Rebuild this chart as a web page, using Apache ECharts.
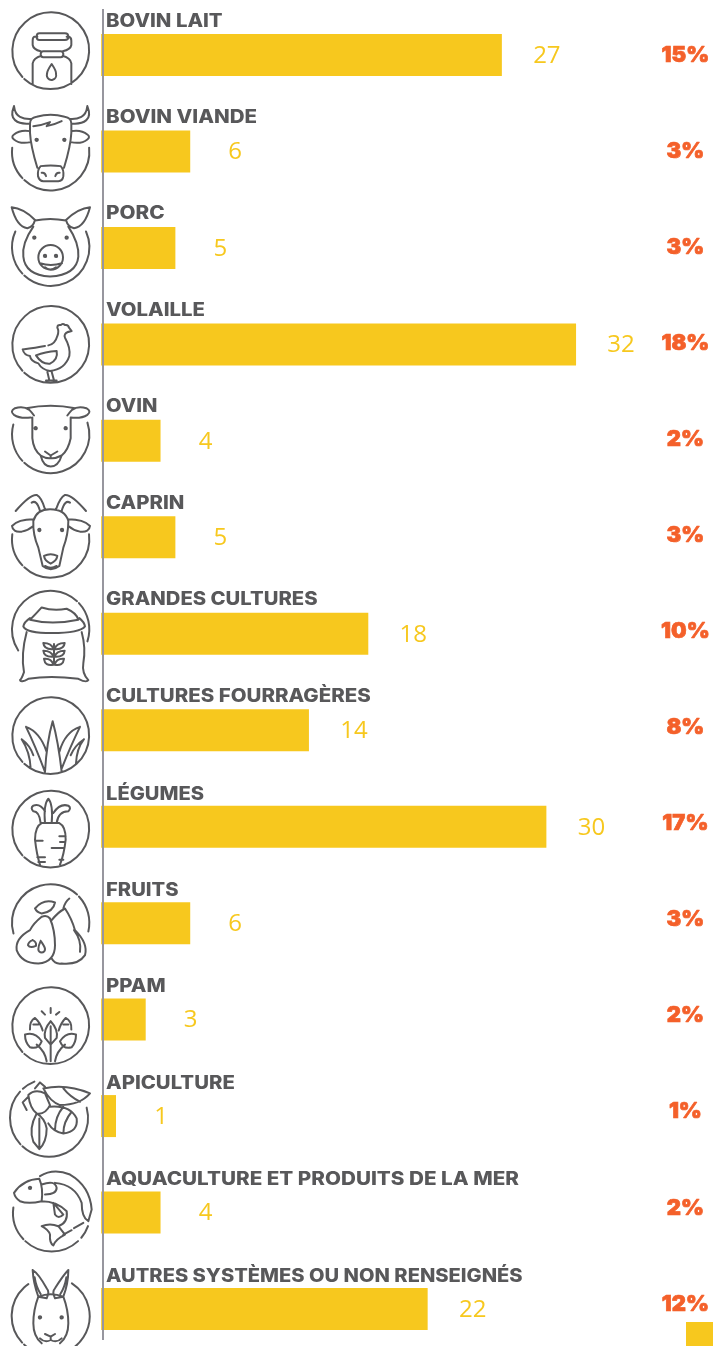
<!DOCTYPE html>
<html><head><meta charset="utf-8">
<style>html,body{margin:0;padding:0;background:#fff}#c{width:713px;height:1346px}</style>
<script src="https://cdn.jsdelivr.net/npm/echarts@6/dist/echarts.min.js"></script>
</head><body><div id="c"></div>
<script>
const categories=['BOVIN LAIT','BOVIN VIANDE','PORC','VOLAILLE','OVIN','CAPRIN','GRANDES CULTURES','CULTURES FOURRAGÈRES','LÉGUMES','FRUITS','PPAM','APICULTURE','AQUACULTURE ET PRODUITS DE LA MER','AUTRES SYSTÈMES OU NON RENSEIGNÉS'];
const counts=[27,6,5,32,4,5,18,14,30,6,3,1,4,22];
const percents=['15%','3%','3%','18%','2%','3%','10%','8%','17%','3%','2%','1%','2%','12%'];
const labelRaise=[34,34,34,34,34,34,34,34,32,33,33,33,33,33];
const labelStretch=[1.10,1.11,1.12,1.10,1.09,1.10,1.095,1.107,1.09,1.09,1.10,1.10,1.117,1.087];

function rad(a){return a*Math.PI/180}
function arc(cx,cy,r,a0,a1){
  const x0=cx+r*Math.cos(rad(a0)),y0=cy+r*Math.sin(rad(a0)),x1=cx+r*Math.cos(rad(a1)),y1=cy+r*Math.sin(rad(a1));
  return `M${x0.toFixed(1)} ${y0.toFixed(1)}A${r} ${r} 0 ${a1-a0>180?1:0} 1 ${x1.toFixed(1)} ${y1.toFixed(1)}`;
}
function arcs(cx,cy,r,list){return list.map(s=>arc(cx,cy,r,s[0],s[1])).join('')}
function ring(cx,cy,r){return arc(cx,cy,r,0,179)+arc(cx,cy,r,179,359.9)}
function dot(x,y,r){return ring(x,y,r||3.5)}

/* Icon outlines: anchor is the bar centre in the outline's own coordinates */
const iconShapes=[
 {anchor:165,d:arcs(152,152,116,[[-43,133],[137,315]])+
  'M118 100H195Q205 100 205 110Q205 120 195 120H118Q110 120 110 110Q110 100 118 100Z'+
  'M112 110H103Q98 112 98 122V135Q100 148 122 154M200 110H207Q214 112 214 122V135Q212 148 188 154'+
  'M130 154H182Q190 154 190 163Q190 172 182 172H130Q122 172 122 163Q122 154 130 154Z'+
  'M124 167Q100 174 98 190V252M188 167Q212 174 214 190V252'+
  'M155 192Q170 214 168 222A14 14 0 1 1 141 222Q140 214 155 192Z'},
 {anchor:456,d:arcs(152,457,116,[[-6,133],[137,186]])+
  'M42 320Q30 350 45 362Q60 375 90 372M42 320Q45 345 60 352Q75 360 96 358M262 320Q274 350 259 362Q244 375 214 372M262 320Q259 345 244 352Q229 360 208 358'+
  'M90 372Q90 355 110 352Q152 340 194 352Q214 355 214 372V400Q212 440 192 505M90 372V400Q92 440 112 505'+
  'M122 500Q152 496 182 500Q192 510 190 530Q188 545 175 545H130Q118 545 114 530Q112 510 122 500Z'+
  'M125 520Q135 518 138 530M179 520Q169 518 166 530'+
  'M90 395Q60 390 42 405Q32 412 42 420Q60 435 92 428M214 395Q244 390 262 405Q272 412 262 420Q244 435 212 428'+
  'M100 380Q125 378 150 368L140 380Q165 375 185 365'+dot(110,421)+dot(193,421)},
 {anchor:744,d:arcs(152,742,116,[[-24,133],[137,204]])+
  'M100 680Q65 730 70 770Q75 825 150 830Q230 825 235 770Q238 730 205 680'+
  'M35 622Q70 625 105 660Q100 680 82 685Q50 680 35 622ZM270 622Q235 625 198 660Q203 680 222 685Q255 680 270 622Z'+
  'M105 662Q150 652 198 662'+ring(152,772,37)+dot(135,768)+dot(168,768)+dot(103,713)+dot(200,713)+
  'M120 790Q152 800 186 790M135 802Q150 815 168 802'},
 {anchor:150,d:arcs(152,150,116,[[-43,133],[137,315]])+
  'M68 165Q110 160 135 155M68 165Q72 182 90 185Q92 200 115 207Q125 225 150 230Q195 225 208 185Q212 160 195 130Q190 118 205 112'+
  'M172 100Q172 90 182 92Q188 85 195 92Q205 90 207 100L215 110L205 113M172 100Q178 110 172 125Q165 150 145 153'+
  'M108 183Q135 172 170 170Q175 195 150 208Q125 210 108 183Z'+
  'M142 232L148 258M155 232L162 258M138 258H170'},
 {anchor:438,d:arcs(152,419,116,[[-18,133],[137,195]])+
  'M92 368Q60 372 42 360Q28 350 45 340Q70 332 88 345Q95 352 102 362M212 368Q244 372 262 360Q276 350 259 340Q234 332 216 345Q209 352 202 362'+
  'M78 340Q152 325 226 340M97 368V430Q100 465 122 482M212 368V430Q205 465 185 482'+
  'M135 470L152 482L172 470M152 482V490M122 482Q140 492 152 490Q165 492 185 482M122 482Q130 515 152 515Q175 515 185 482'+dot(107,400)+dot(197,400)},
 {anchor:729,d:arcs(152,734,116,[[-7,133],[137,187]])+
  'M47 650Q90 600 110 602Q125 610 135 645M95 625Q110 615 120 650M258 650Q215 600 195 602Q180 610 168 645M210 625Q195 615 185 650'+
  'M100 680Q110 645 150 645Q195 645 205 680Q205 720 190 760L178 815Q152 835 128 815L115 760Q98 720 100 680Z'+
  'M100 675Q55 675 36 695Q38 715 65 712Q85 708 100 695M205 675Q250 675 270 695Q268 715 240 712Q220 708 205 695'+
  'M132 785Q152 775 172 785Q170 800 152 808Q134 800 132 785ZM135 815Q152 825 170 815'+dot(118,707)+dot(186,707)},
 {anchor:147,d:arcs(152,134,116,[[147,313],[317,378]])+
  'M90 100Q72 112 70 125Q80 145 155 145Q240 145 255 125Q253 112 238 100M90 105Q110 85 125 68Q160 80 200 72Q230 85 235 105Q155 122 90 105Z'+
  'M80 142Q62 210 72 262Q65 282 60 286Q62 295 85 282Q150 272 235 282Q260 295 265 286Q245 265 250 235Q258 190 245 142'+
  'M162 178V240M130 175Q155 175 160 193Q132 195 130 175ZM194 175Q169 175 164 193Q192 195 194 175ZM130 198Q155 198 160 216Q132 218 130 198ZM194 198Q169 198 164 216Q192 218 194 198ZM132 222Q155 220 160 240Q135 245 132 222ZM192 222Q169 220 164 240Q189 245 192 222Z'},
 {anchor:435,d:arcs(152,451,116,[[-43,133],[137,315]])+
  'M135 560Q140 470 158 408Q175 470 185 560M78 425Q120 440 140 500M78 425Q105 480 135 560M240 425Q195 440 178 500M240 425Q213 480 185 550'+
  'M65 462Q90 480 100 510M65 462Q90 500 92 550M252 462Q225 480 212 510M252 462Q230 490 228 535'},
 {anchor:726,d:arcs(152,733,116,[[-43,133],[137,315]])+
  'M135 715Q130 660 145 642Q160 660 155 715M122 715Q118 680 100 680Q90 670 100 663Q120 655 135 680M170 715Q175 680 205 680Q215 670 205 663Q180 655 160 685'+
  'M125 715H178Q198 725 197 765Q192 810 180 840M125 715Q105 725 105 765Q110 810 120 840'+
  'M108 768H128M178 755H197M180 772H195M155 790H192M112 818H135M115 832H135M178 825H190'},
 {anchor:144,d:arcs(152,143,116,[[164,313],[317,373]])+
  'M125 125Q100 145 90 165Q45 190 50 225Q65 265 115 265Q165 260 165 210Q165 165 150 130Q140 118 125 125'+
  'M155 135Q175 110 195 100Q215 130 225 165Q265 205 255 240Q235 270 185 265Q165 268 155 250'+
  'M190 100Q195 80 208 70M105 100Q130 70 165 82Q160 110 125 115Q110 112 105 100'+
  'M98 195Q110 200 108 212Q90 220 84 210Q85 200 98 195M122 197Q135 215 135 222A10 10 0 1 1 115 222Q115 212 122 197M222 165Q245 195 240 230'},
 {anchor:435,d:arcs(152,453,116,[[-43,133],[137,315]])+
  'M152 400V415M125 410L135 420M178 412L168 420'+
  'M152 440Q175 465 170 490L152 510L135 490Q130 465 152 440M152 455V560'+
  'M75 480Q105 470 125 500Q115 525 90 518Q75 505 75 480M228 480Q200 470 180 500Q190 525 215 518Q228 505 228 480'+
  'M140 560Q135 530 110 510M165 560Q170 530 195 510'+
  'M90 465Q88 440 105 430Q122 445 128 468M100 450H115M214 465Q216 440 197 430Q182 445 176 468M190 450H205'},
 {anchor:723,d:arcs(147,728,117,[[-15,133],[137,222],[228,248]])+
  'M130 640Q200 625 270 655Q240 690 180 690Q150 680 130 640M190 640Q210 665 240 680'+
  'M110 715Q85 760 100 800L118 822Q140 800 140 760Q135 730 110 715M118 730V820'+
  'M150 695Q210 690 230 730Q235 770 190 775Q160 770 145 745M190 695Q165 725 165 765M215 710Q190 740 190 775'+
  'M85 660Q105 640 135 655L150 690Q135 720 110 715Q90 700 85 660M105 640L120 622L135 635M85 665L68 682L80 705'},
 {anchor:159,d:arcs(155,160,116,[[20,40],[47,133],[137,188]])+
  'M42 100Q70 60 118 58Q130 85 125 125Q85 135 60 125Q45 115 42 100M125 75Q165 60 170 85Q170 105 135 105'+
  'M125 125Q170 125 200 155Q205 190 175 200M160 130L190 165Q175 180 165 165Z'+
  'M125 200Q150 190 175 200L195 225Q165 240 160 258Q148 250 150 225Q145 210 125 200'+
  'M120 50Q160 25 210 45Q270 80 275 150L265 185Q245 175 245 130Q225 75 165 70M190 225L215 212M222 206L250 190'+dot(90,85)},
 {anchor:447,d:arcs(152,468,117,[[-57,133],[137,235]])+
  'M98 330Q100 370 115 410L140 415Q150 395 140 385Q115 340 98 330M205 330Q205 370 190 410L165 415Q155 395 165 385Q190 345 205 330'+
  'M104 352Q108 380 122 402M199 352Q195 380 181 402'+
  'M115 410Q100 450 100 490Q100 530 125 550M190 410Q205 450 205 490Q205 530 180 550M115 410Q152 395 190 410'+
  'M135 522L152 530L165 522M152 530V540M120 535Q135 550 152 540Q170 550 185 535'+dot(120,472)+dot(185,472)}
];

const chart=echarts.init(document.getElementById('c'),null,{renderer:'canvas'});
const plotLeft=104, unit=14.84, xMin=0.19, xMax=40;
const plotWidth=unit*(xMax-xMin);
chart.setOption({
 animation:false,
 backgroundColor:'#fff',
 grid:[
  {left:plotLeft,top:55,width:plotWidth,height:1254},
  {left:plotLeft,top:55,width:plotWidth,height:1249}
 ],
 xAxis:[
  {type:'value',min:xMin,max:xMax,gridIndex:0,show:false},
  {type:'value',min:xMin,max:xMax,gridIndex:1,show:false}
 ],
 yAxis:[
  {type:'category',gridIndex:0,inverse:true,boundaryGap:false,data:categories,
   axisLine:{show:false},axisTick:{show:false},axisLabel:{show:false}},
  {type:'category',gridIndex:1,inverse:true,boundaryGap:false,position:'right',data:percents,
   axisLine:{show:false},axisTick:{show:false},
   axisLabel:{show:true,interval:0,margin:-8.3,align:'center',color:'#f4602a',
     fontFamily:'Inter',fontWeight:900,fontSize:22,textBorderColor:'#f4602a',textBorderWidth:0.7}}
 ],
 series:[
  {type:'bar',xAxisIndex:0,yAxisIndex:0,data:counts,barWidth:42,clip:false,
   itemStyle:{color:'#f7c81e'},
   label:{show:true,position:'right',distance:45,align:'center',offset:[0,1],color:'#f7c81e',
     fontFamily:'Open Sans',fontSize:24,fontWeight:400}},
  {type:'custom',xAxisIndex:0,yAxisIndex:0,clip:false,silent:true,
   data:categories.map((c,i)=>[xMin,i]),encode:{x:0,y:1},z:5,
   renderItem(params,api){
     const p=api.coord([api.value(0),api.value(1)]);
     const i=params.dataIndex, s=iconShapes[i];
     return {type:'group',x:p[0],y:p[1],children:[
       {type:'path',x:-312/3,y:-s.anchor/3,scaleX:1/3,scaleY:1/3,shape:{pathData:s.d},
        style:{fill:null,stroke:'#58585a',lineWidth:6,lineCap:'round',lineJoin:'round'}},
       {type:'text',x:2,y:-labelRaise[i],scaleX:labelStretch[i],scaleY:1,
        style:{text:categories[i],fill:'#58585a',fontFamily:'Inter',fontWeight:800,fontSize:18.5,verticalAlign:'middle',align:'left'}}
     ]};
   }}
 ],
 graphic:[
  {type:'rect',z:10,shape:{x:102,y:9,width:2,height:1331},style:{fill:'#97969e'}},
  {type:'rect',z:10,shape:{x:686,y:1322,width:27,height:24},style:{fill:'#f7c81e'}}
 ]
});
</script></body></html>
